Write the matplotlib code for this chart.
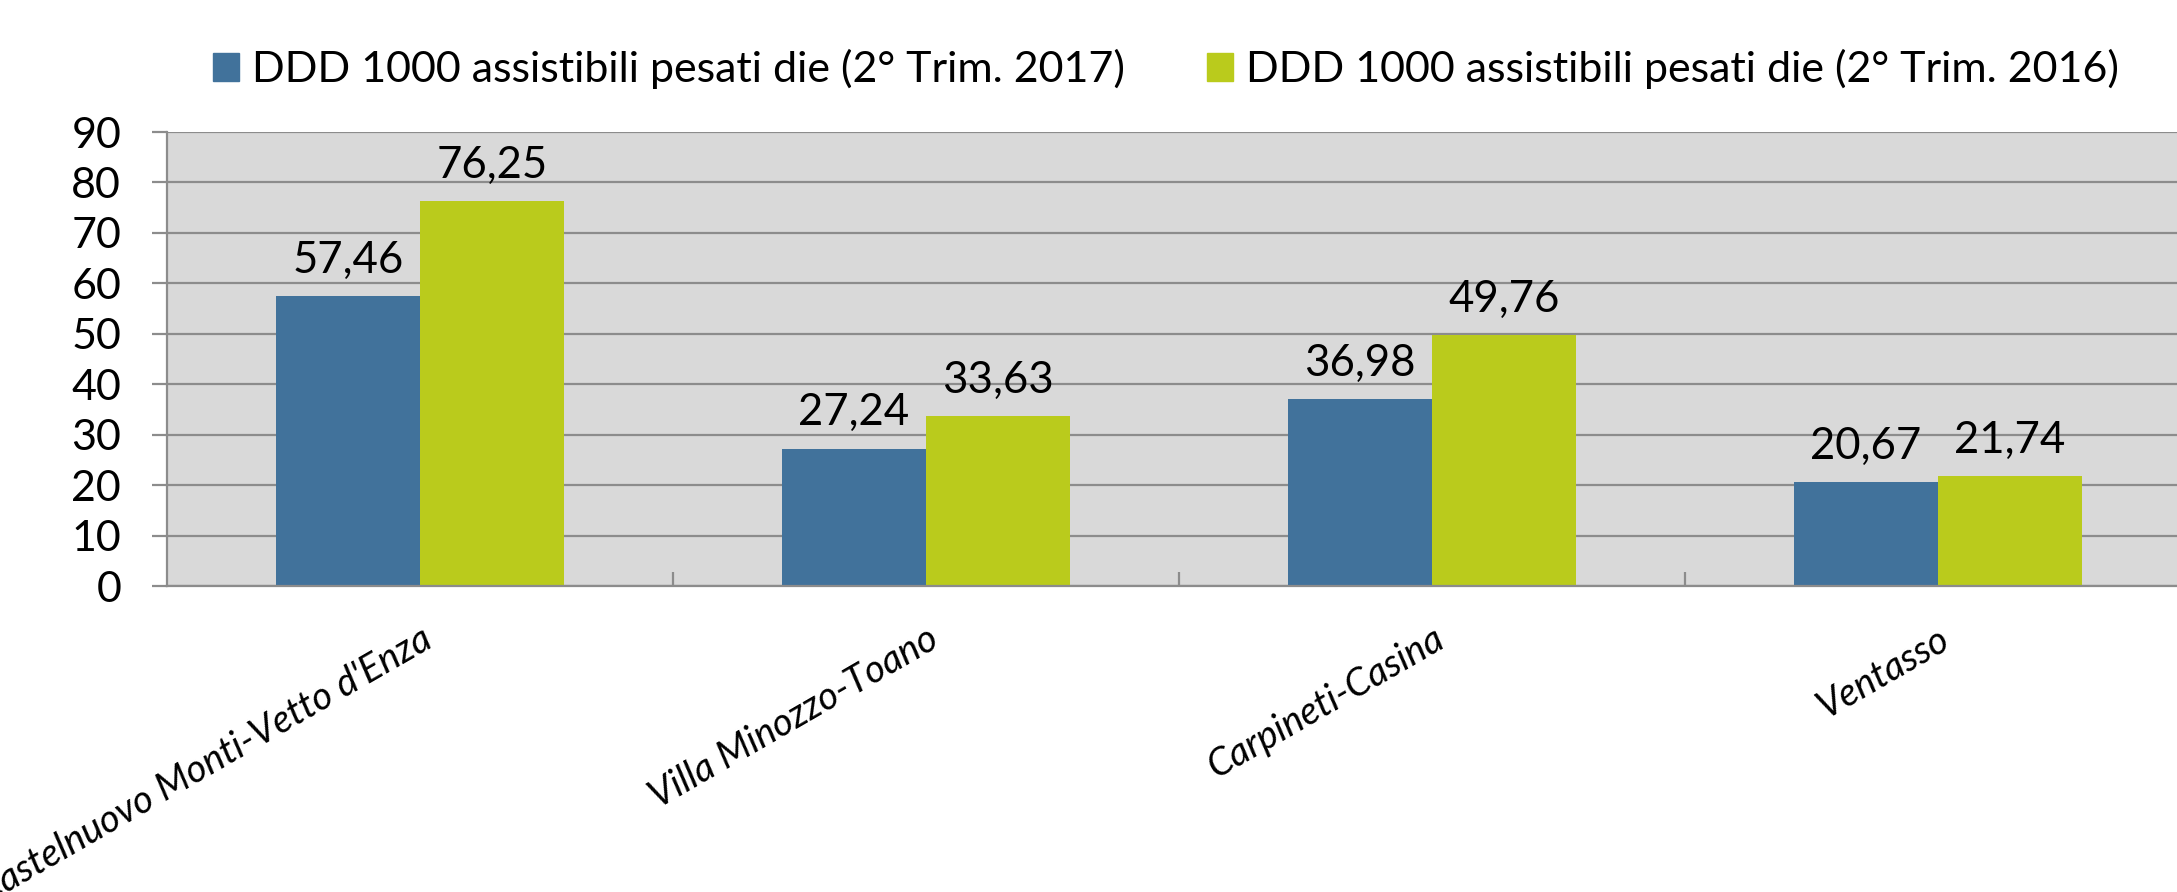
import matplotlib
matplotlib.use('Agg')
import matplotlib.pyplot as plt
import numpy as np
from matplotlib.patches import Patch

categories = ["Castelnuovo Monti-Vetto d'Enza", "Villa Minozzo-Toano", "Carpineti-Casina", "Ventasso"]
values_2017 = [57.46, 27.24, 36.98, 20.67]
values_2016 = [76.25, 33.63, 49.76, 21.74]
series_labels = ["DDD 1000 assistibili pesati die (2° Trim. 2017)",
                 "DDD 1000 assistibili pesati die (2° Trim. 2016)"]
yticks = [0, 10, 20, 30, 40, 50, 60, 70, 80, 90]

COL_2017 = '#41729B'
COL_2016 = '#BACB1C'

plt.rcParams['font.family'] = ['Lato', 'DejaVu Sans']

W, H = 2177, 892
fig = plt.figure(figsize=(W / 100, H / 100), dpi=100)
left, right, top, bottom = 167, 2191, 132, 586
ax = fig.add_axes([left / W, 1 - bottom / H, (right - left) / W, (bottom - top) / H])

x = np.arange(len(categories))
w = 0.285
b1 = ax.bar(x - w / 2, values_2017, w, color=COL_2017, zorder=2)
b2 = ax.bar(x + w / 2, values_2016, w, color=COL_2016, zorder=2)

fmt = lambda v: f"{v:.2f}".replace('.', ',')
ax.bar_label(b1, labels=[fmt(v) for v in values_2017], padding=11, fontsize=31.5)
ax.bar_label(b2, labels=[fmt(v) for v in values_2016], padding=11, fontsize=31.5)

ax.set_xlim(-0.5, len(categories) - 0.5)
ax.set_ylim(0, 90)
ax.set_facecolor('#D9D9D9')
ax.set_yticks(yticks)
ax.yaxis.grid(True, color='#8C8C8C', linewidth=1.6, zorder=1)
ax.set_axisbelow(True)

for s in ['top', 'right']:
    ax.spines[s].set_visible(False)
for s in ['left', 'bottom']:
    ax.spines[s].set_color('#8C8C8C')
    ax.spines[s].set_linewidth(1.6)

ax.tick_params(axis='y', labelsize=31, length=11, width=1.6, color='#8C8C8C', pad=22)
ax.set_xticks(x)
ax.set_xticklabels(categories, rotation=30, ha='right', rotation_mode='anchor',
                   style='italic', fontsize=27.5)
ax.tick_params(axis='x', which='major', length=0, pad=25)
ax.set_xticks(np.arange(0.5, len(categories) - 0.5, 1), minor=True)
ax.tick_params(axis='x', which='minor', direction='in', length=10, width=1.6, color='#8C8C8C')

handles = [Patch(color=COL_2017), Patch(color=COL_2016)]
fig.legend(handles, series_labels, loc='center', bbox_to_anchor=(1166 / W, 1 - 69 / H),
           ncol=2, frameon=False, fontsize=31, handlelength=0.6, handleheight=0.6,
           handletextpad=0.3, columnspacing=1.9)

fig.savefig('out.png', dpi=100)
